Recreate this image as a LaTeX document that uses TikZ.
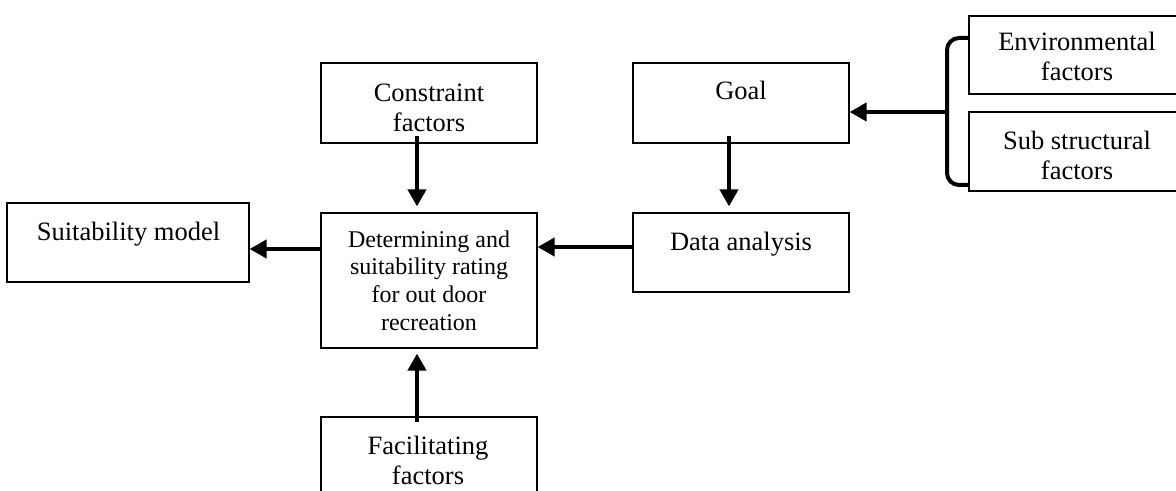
\documentclass[tikz,border=0pt]{standalone}
\usepackage{fontspec}
\setmainfont{Liberation Serif}
\usetikzlibrary{arrows.meta}
\begin{document}
\begin{tikzpicture}[x=0.5pt,y=-0.5pt,
  box/.style={draw,line width=0.6pt,inner sep=0pt,minimum width=108pt},
  lbl/.style={anchor=north,inner sep=0pt,align=center,font=\fontsize{13.25pt}{14.8pt}\selectfont},
  lblsmall/.style={anchor=north,inner sep=0pt,align=center,font=\fontsize{12pt}{13.85pt}\selectfont},
  arr/.style={line width=2pt,-{Triangle[length=8.5pt,width=9pt]}}]
\useasboundingbox (0,0) rectangle (1176,491);
\clip (0,0) rectangle (1176,491);
% boxes
\node[box,minimum width=121pt,minimum height=39.5pt] (suit) at (128,242.5) {};
\node[box,minimum height=40pt] (cons) at (429,103) {};
\node[box,minimum height=67.5pt] (center) at (429,280.5) {};
\node[box,minimum height=40pt] (goal) at (741,103) {};
\node[box,minimum height=39.5pt] (data) at (741,252.5) {};
\node[box,minimum height=39pt] (env) at (1077,55) {};
\node[box,minimum height=39.5pt] (sub) at (1077,151.5) {};
\node[box,minimum height=51.5pt] (fac) at (429,468.5) {};
% texts
\node[lbl] (suitT) at (128.5,222) {Suitability model};
\node[lbl] (consT) at (429,84) {Constraint\\factors};
\node[lblsmall] (centerT) at (429,230) {Determining and\\suitability rating\\for out door\\recreation};
\node[lbl] (goalT) at (741,81) {Goal};
\node[lbl] (dataT) at (741,232) {Data analysis};
\node[lbl] (envT) at (1077,32) {Environmental\\factors};
\node[lbl] (subT) at (1077,131) {Sub structural\\factors};
\node[lbl] (facT) at (428,436) {Facilitating\\factors};
% arrows
\coordinate (c1) at (417,136);
\draw[arr,shorten >=3pt] (c1) -- (c1 |- center.north);
\coordinate (c2) at (417,422);
\draw[arr,shorten >=2.5pt] (c2) -- (c2 |- center.south);
\coordinate (c3) at (729,136);
\draw[arr,shorten >=3pt] (c3) -- (c3 |- data.north);
\coordinate (c4) at (data.west |- 0,247);
\draw[arr] (c4) -- (c4 -| center.east);
\coordinate (c5) at (center.west |- 0,249);
\draw[arr] (c5) -- (c5 -| suit.east);
% bracket
\draw[line width=2pt,rounded corners=6pt] (env.west |- 0,38) -- (947,38) -- (947,185) -- (sub.west |- 0,185);
\coordinate (bj) at (947,112);
\draw[arr] (bj) -- (bj -| goal.east);
\end{tikzpicture}
\end{document}
